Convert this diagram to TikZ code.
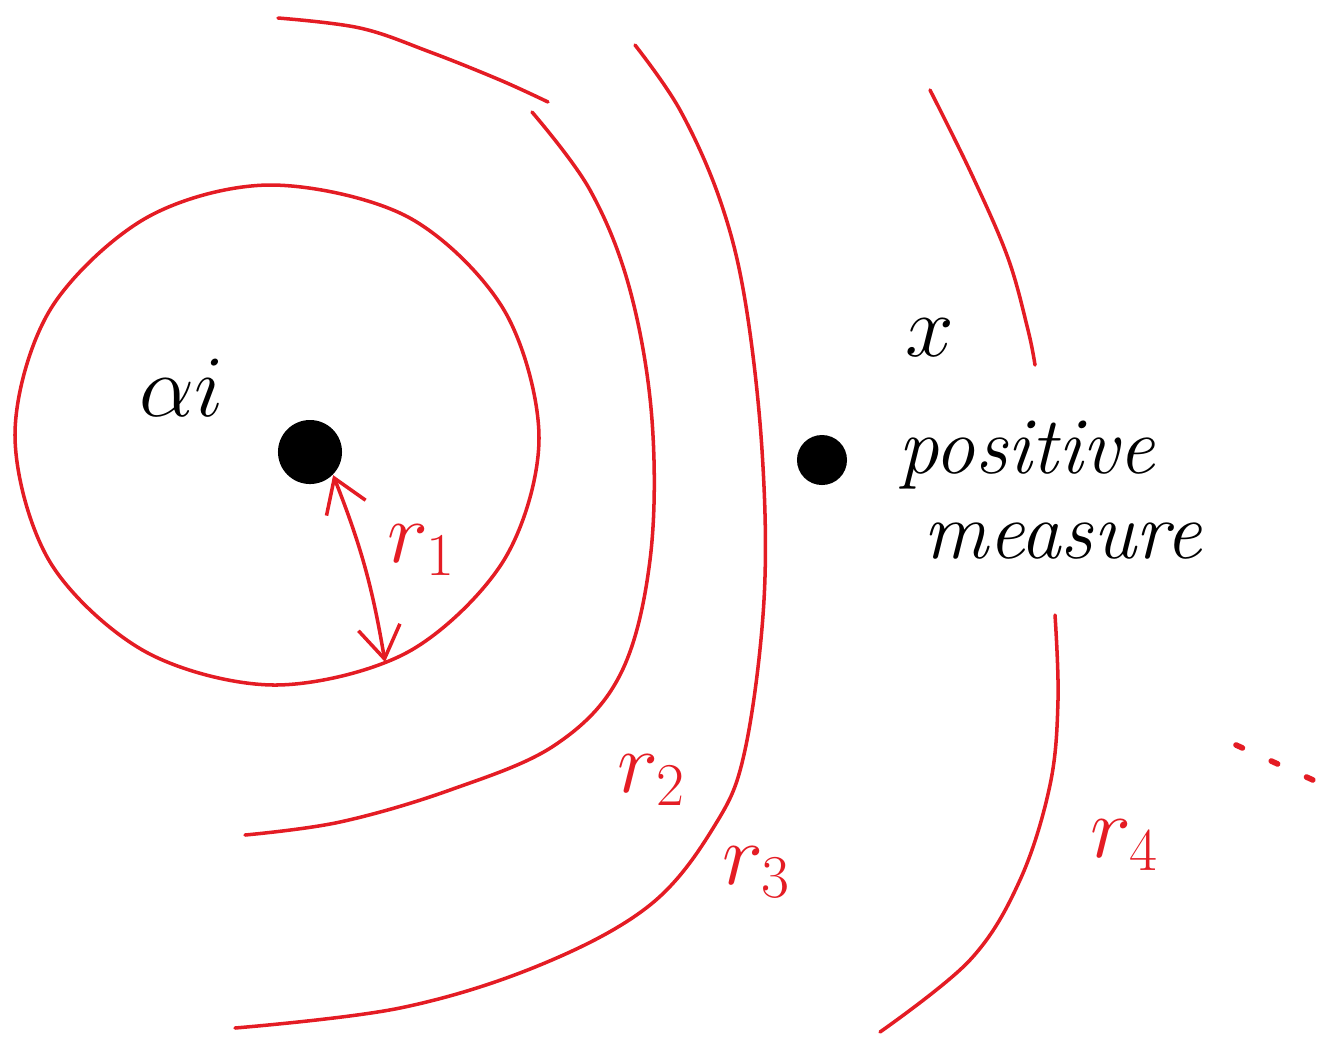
\documentclass[tikz,border=0pt]{standalone}
\usepackage{amsmath}
\usepackage{xcolor}
\usepackage{tikz}
\usetikzlibrary{arrows.meta,positioning}

\definecolor{penred}{RGB}{228,28,36}

\begin{document}
\begin{tikzpicture}[
  x=0.01cm, y=-0.01cm,
  every node/.style={inner sep=0pt},
  ring/.style ={draw=penred, line width=1pt, line cap=round, line join=round},
  pt/.style   ={circle, fill=black, inner sep=0pt},
  rlab/.style ={text=penred, font=\fontsize{26}{28}\selectfont},
  blab/.style ={text=black, font=\fontsize{30}{32}\selectfont},
  ra/.style   ={{Straight Barb[length=3.2mm,width=4.2mm]}-{Straight Barb[length=3.2mm,width=4.2mm]},
                draw=penred, line width=1pt},
]
\useasboundingbox (0,0) rectangle (1324,1038);

%% centre alpha_i and the inner disc r_1
\node[pt, minimum size=0.64cm] (alpha) at (310,452) {};
\node[blab] (alab) at (182,388) {$\alpha i$};

\draw[ring] plot[smooth cycle, tension=0.55] coordinates {
  (539,438) (504,310) (408,217) (270,185) (146,218) (50,310)
  (15,435) (50,562) (146,652) (275,685) (408,652) (504,560)};

\coordinate (rim) at (385,662);
\draw[ra] (alpha.south east) to[bend left=6] (rim);
\node[rlab] (r1) at (422,550) {$r_1$};

%% shell r_2
\draw[ring] plot[smooth, tension=0.6] coordinates {
  (278,18) (360,28) (430,52) (500,80) (548,102)};
\draw[ring] plot[smooth, tension=0.6] coordinates {
  (532,112) (590,190) (630,290) (652,420) (650,560) (620,675)
  (555,745) (450,790) (340,822) (245,835)};
\node[rlab] (r2) at (652,780) {$r_2$};

%% shell r_3
\draw[ring] plot[smooth, tension=0.6] coordinates {
  (635,45) (680,110) (720,200) (745,300) (762,450) (764,600)
  (745,750) (715,825) (650,905) (540,965) (400,1008) (235,1028)};
\node[rlab] (r3) at (757,872) {$r_3$};

%% shell r_4 (broken round the point x)
\draw[ring] plot[smooth, tension=0.6] coordinates {
  (930,90) (972,175) (1008,258) (1028,330) (1035,365)};
\draw[ring] plot[smooth, tension=0.6] coordinates {
  (1055,615) (1058,700) (1050,785) (1020,880) (970,960) (880,1032)};
\node[rlab] (r4) at (1125,845) {$r_4$};

%% the point x with positive measure
\node[pt, minimum size=0.5cm] (xpt) at (822,460) {};
\node[blab, font=\fontsize{40}{42}\selectfont] (xlab) at (930,338) {$x$};
\node[blab, right=0.5cm of xpt, yshift=-0.3cm, align=left, anchor=west,
      font=\fontsize{23}{26}\selectfont\itshape] (mlab) {positive\\[-2pt]\hspace{0.25cm}measure};

%% further shells
\coordinate (dA) at (1236,745);
\coordinate (dB) at (1324,785);
\draw[ring, dash pattern=on 2pt off 9pt, line width=1.6pt] (dA) -- (dB);

\end{tikzpicture}
\end{document}
